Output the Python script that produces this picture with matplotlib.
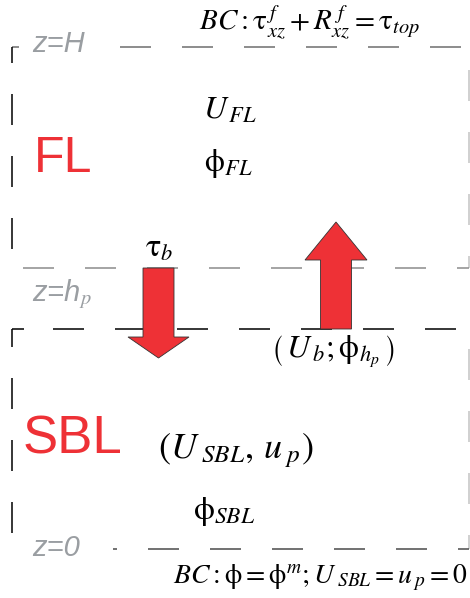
import matplotlib
matplotlib.use("Agg")
import matplotlib.pyplot as plt
from matplotlib.patches import FancyArrow

plt.rcParams['mathtext.fontset'] = 'stix'
plt.rcParams['lines.scale_dashes'] = False

# ---- content ----
layer_names = ["FL", "SBL"]
level_labels = ["z=H", "z=h$_{p}$", "z=0"]
top_bc = r'$BC:\mathrm{\tau}^{\,f}_{xz}+R^{\,f}_{xz}=\mathrm{\tau}_{top}$'
bottom_bc = r'$BC:\mathrm{\phi}=\mathrm{\phi}^{m};U_{\;SBL}=u_{\,p}=0$'
fl_vars = [r'$U_{\,FL}$', r'$\mathrm{\phi}_{FL}$']
sbl_vars = [r'$\left(U_{\;SBL},\,u_{\;p}\right)$', r'$\mathrm{\phi}_{SBL}$']
tau_b = r'$\mathrm{\tau}_{b}$'
interface_vars = r'$\left(\,U_{\,b};\mathrm{\phi}_{h_p}\,\right)$'

RED = '#ee3136'
GRAY_TXT = '#9a9ea2'
PX2PT = 72 / 100.0
DASH_PX, GAP_PX = 31, 31

fig = plt.figure(figsize=(4.7, 5.98), dpi=100)
ax = fig.add_axes([0, 0, 1, 1])
ax.set_xlim(0, 470)
ax.set_ylim(598, 0)
ax.axis('off')


def style(offset):
    return (offset * PX2PT, (DASH_PX * PX2PT, GAP_PX * PX2PT))


def hline(y, x0, x1, color, lw=1.1, offset=0):
    ax.plot([x0, x1], [y, y], color=color, lw=lw, linestyle=style(offset),
            solid_capstyle='butt', dash_capstyle='butt', zorder=1)


def vline(x, y0, y1, color, lw=1.1, offset=0):
    ax.plot([x, x], [y0, y1], color=color, lw=lw, linestyle=style(offset),
            solid_capstyle='butt', dash_capstyle='butt', zorder=1)


def seg(xs, ys, color, lw=1.1):
    ax.plot(xs, ys, color=color, lw=lw, solid_capstyle='butt', zorder=1)


yH, yhp, ysbl, y0 = 47, 268, 329, 549
xl, xr = 12, 469

# FL box
hline(yH, 120, 462, '#6e6e6e')
seg([xl, xl + 7], [yH, yH], '#6e6e6e')
vline(xl, yH, 250, 'black', offset=15)
vline(xr, 70, yhp, '#c4c4c4')
hline(yhp, 23, xr, '#8c8c8c')

# SBL box
hline(ysbl, 53, 458, 'black')
seg([xl, xl + 12], [ysbl, ysbl], 'black')
vline(xl, ysbl, 534, 'black', offset=13)
vline(xr, 349, y0, '#c4c4c4')
hline(y0, 148, xr, '#4a4a4a')
seg([113, 117], [y0, y0], '#4a4a4a')

# level labels
lbl_kw = dict(color=GRAY_TXT, fontsize=21, style='italic',
              family='Liberation Sans', ha='left', va='center')
ax.text(32, yH - 3, level_labels[0], **lbl_kw)
ax.text(32, yhp + 26, level_labels[1], **lbl_kw)
ax.text(32, y0 - 1, level_labels[2], **lbl_kw)

# layer names
ax.text(34, 159, layer_names[0], color=RED, fontsize=36, family='Liberation Sans',
        ha='left', va='center')
ax.text(23, 439, layer_names[1], color=RED, fontsize=38, family='Liberation Sans',
        ha='left', va='center')

# arrows
down = FancyArrow(158.5, yhp, 0, 90, width=31, head_width=61, head_length=21,
                  length_includes_head=True, facecolor=RED, edgecolor='#333333',
                  lw=0.6, zorder=3)
up = FancyArrow(336, ysbl, 0, -107, width=31, head_width=62, head_length=38,
                length_includes_head=True, facecolor=RED, edgecolor='#333333',
                lw=0.6, zorder=3)
ax.add_patch(down)
ax.add_patch(up)

# math labels
ax.text(199, 22, top_bc, fontsize=21, ha='left', va='center')
ax.text(203, 110, fl_vars[0], fontsize=23, ha='left', va='center')
ax.text(204, 163, fl_vars[1], fontsize=23, ha='left', va='center')
ax.text(145, 248, tau_b, fontsize=23, ha='left', va='center', zorder=4)
ax.text(271, 351, interface_vars, fontsize=23, ha='left', va='center', zorder=4)
ax.text(158, 451, sbl_vars[0], fontsize=26, ha='left', va='center')
ax.text(193, 511, sbl_vars[1], fontsize=24, ha='left', va='center')
ax.text(467, 578, bottom_bc, fontsize=20, ha='right', va='center')

fig.savefig('out.png', dpi=100)
